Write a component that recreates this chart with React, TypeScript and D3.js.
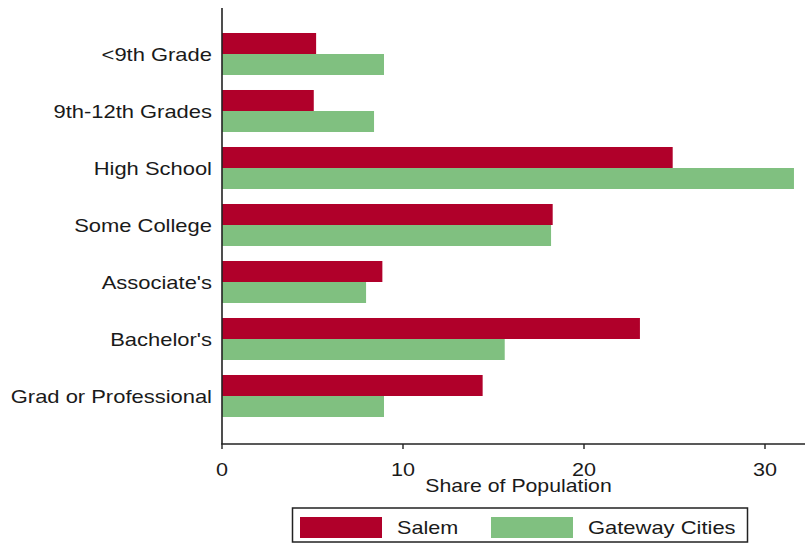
import React from "react";
import * as d3 from "d3";

const categories = [
  "<9th Grade",
  "9th-12th Grades",
  "High School",
  "Some College",
  "Associate's",
  "Bachelor's",
  "Grad or Professional",
];
const salem = [5.2, 5.07, 24.9, 18.27, 8.86, 23.09, 14.4];
const gateway = [8.95, 8.4, 31.6, 18.18, 7.96, 15.62, 8.95];
const xTicks = [0, 10, 20, 30];
const seriesNames = ["Salem", "Gateway Cities"];
const colors = ["#B0002A", "#80C080"];

const W = 810;
const H = 545;
const FS = 18;
const SX = 1.2;
const FONT = "Arial, 'Liberation Sans', Helvetica, sans-serif";
const TXT = "#1a1a1a";

export default function App() {
  const x = d3.scaleLinear().domain([0, 10]).range([222, 403]);
  const y = d3
    .scaleBand<string>()
    .domain(categories)
    .range([25.5, 424.5])
    .paddingInner(0.263)
    .paddingOuter(0.1315);
  const bw = y.bandwidth() / 2;
  const axisY = 444;
  const x0 = x(0);

  const stretched = (
    key: string,
    tx: number,
    ty: number,
    text: string,
    anchor: "start" | "middle" | "end",
    sx: number = SX
  ) => (
    <text
      key={key}
      transform={`translate(${tx},${ty}) scale(${sx},1)`}
      textAnchor={anchor}
      fontSize={FS}
      fontFamily={FONT}
      fill={TXT}
    >
      {text}
    </text>
  );

  return (
    <svg
      width={W}
      height={H}
      style={{ position: "absolute", left: 0, top: 0, background: "#fff" }}
    >
      <rect x={0} y={0} width={W} height={H} fill="#fff" />
      {categories.map((c, i) => {
        const y0 = y(c)!;
        return (
          <g key={c}>
            <rect x={x0} y={y0} width={x(salem[i]) - x0} height={bw} fill={colors[0]} />
            <rect x={x0} y={y0 + bw} width={x(gateway[i]) - x0} height={bw} fill={colors[1]} />
            {stretched("l" + i, 212, y0 + bw + 6.5, c, "end", 1.22)}
          </g>
        );
      })}
      <line x1={x0} x2={x0} y1={8} y2={axisY} stroke="#222" strokeWidth={1.6} />
      <line x1={x0 - 0.8} x2={805} y1={axisY} y2={axisY} stroke="#222" strokeWidth={1.6} />
      {xTicks.map((t) => (
        <g key={t}>
          <line x1={x(t)} x2={x(t)} y1={axisY} y2={axisY + 5} stroke="#222" strokeWidth={1.4} />
          {stretched("t" + t, x(t), 475.5, String(t), "middle")}
        </g>
      ))}
      {stretched("title", 518.5, 492, "Share of Population", "middle", 1.18)}
      <rect x={292.5} y={508} width={455} height={34} fill="#fff" stroke="#222" strokeWidth={1.5} />
      <rect x={300} y={517} width={82} height={21} fill={colors[0]} />
      {stretched("s0", 397, 533.5, seriesNames[0], "start", 1.2)}
      <rect x={491} y={517} width={82} height={21} fill={colors[1]} />
      {stretched("s1", 588, 533.5, seriesNames[1], "start", 1.22)}
    </svg>
  );
}
